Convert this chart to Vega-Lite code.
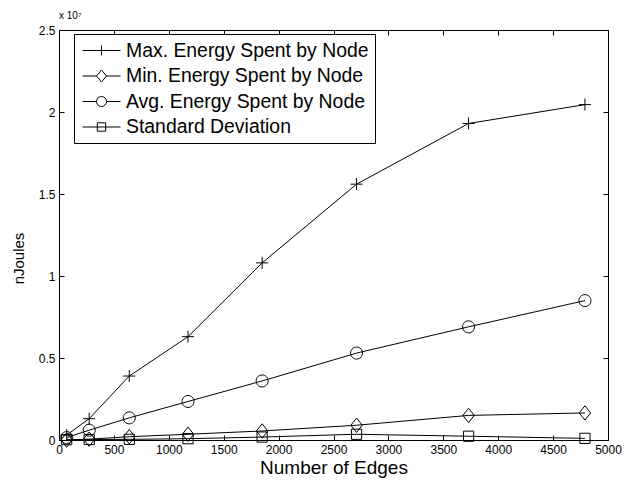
{
  "$schema": "https://vega.github.io/schema/vega-lite/v6.json",
  "autosize": "none",
  "width": 549,
  "height": 410,
  "padding": {"left": 59, "top": 30, "right": 16, "bottom": 41},
  "background": "white",
  "title": {"text": "x 10⁷", "anchor": "start", "frame": "group", "fontSize": 10, "fontWeight": "normal", "font": "Liberation Sans", "offset": 3, "color": "black"},
  "config": {
    "view": {"stroke": "black", "strokeWidth": 1},
    "font": "Liberation Sans",
    "axis": {
      "domainColor": "black", "tickColor": "black", "labelColor": "black", "titleColor": "black",
      "labelFont": "Liberation Sans", "titleFont": "Liberation Sans",
      "labelFontSize": 12, "titleFontSize": 19, "titleFontWeight": "normal",
      "gridColor": "#333", "gridDash": [1, 3], "gridWidth": 0.8, "gridOpacity": 0.8,
      "tickSize": -5, "tickWidth": 1, "labelFlush": false
    }
  },
  "data": {"values": [
    {"edges": 70, "series": "Max. Energy Spent by Node", "e": 300000},
    {"edges": 275, "series": "Max. Energy Spent by Node", "e": 1300000},
    {"edges": 640, "series": "Max. Energy Spent by Node", "e": 3900000},
    {"edges": 1175, "series": "Max. Energy Spent by Node", "e": 6300000},
    {"edges": 1850, "series": "Max. Energy Spent by Node", "e": 10800000},
    {"edges": 2710, "series": "Max. Energy Spent by Node", "e": 15600000},
    {"edges": 3730, "series": "Max. Energy Spent by Node", "e": 19300000},
    {"edges": 4790, "series": "Max. Energy Spent by Node", "e": 20450000},
    {"edges": 70, "series": "Min. Energy Spent by Node", "e": 0},
    {"edges": 275, "series": "Min. Energy Spent by Node", "e": 50000},
    {"edges": 640, "series": "Min. Energy Spent by Node", "e": 200000},
    {"edges": 1175, "series": "Min. Energy Spent by Node", "e": 350000},
    {"edges": 1850, "series": "Min. Energy Spent by Node", "e": 550000},
    {"edges": 2710, "series": "Min. Energy Spent by Node", "e": 900000},
    {"edges": 3730, "series": "Min. Energy Spent by Node", "e": 1500000},
    {"edges": 4790, "series": "Min. Energy Spent by Node", "e": 1650000},
    {"edges": 70, "series": "Avg. Energy Spent by Node", "e": 150000},
    {"edges": 275, "series": "Avg. Energy Spent by Node", "e": 600000},
    {"edges": 640, "series": "Avg. Energy Spent by Node", "e": 1350000},
    {"edges": 1175, "series": "Avg. Energy Spent by Node", "e": 2350000},
    {"edges": 1850, "series": "Avg. Energy Spent by Node", "e": 3600000},
    {"edges": 2710, "series": "Avg. Energy Spent by Node", "e": 5300000},
    {"edges": 3730, "series": "Avg. Energy Spent by Node", "e": 6900000},
    {"edges": 4790, "series": "Avg. Energy Spent by Node", "e": 8500000},
    {"edges": 70, "series": "Standard Deviation", "e": 20000},
    {"edges": 275, "series": "Standard Deviation", "e": 30000},
    {"edges": 640, "series": "Standard Deviation", "e": 40000},
    {"edges": 1175, "series": "Standard Deviation", "e": 80000},
    {"edges": 1850, "series": "Standard Deviation", "e": 180000},
    {"edges": 2710, "series": "Standard Deviation", "e": 350000},
    {"edges": 3730, "series": "Standard Deviation", "e": 230000},
    {"edges": 4790, "series": "Standard Deviation", "e": 100000}
  ]},
  "layer": [
    {
      "mark": {"type": "line", "color": "black", "strokeWidth": 1},
      "encoding": {
        "x": {"field": "edges", "type": "quantitative", "scale": {"domain": [0, 5000], "nice": false},
              "axis": {"orient": "top", "labels": false, "title": null, "grid": false, "values": [0,500,1000,1500,2000,2500,3000,3500,4000,4500,5000]}},
        "y": {"field": "e", "type": "quantitative", "scale": {"domain": [0, 25000000], "nice": false},
              "axis": {"orient": "right", "labels": false, "title": null, "grid": false, "values": [0,5000000,10000000,15000000,20000000,25000000]}},
        "detail": {"field": "series"}
      }
    },
    {
      "mark": {"type": "point", "filled": false, "stroke": "black", "strokeWidth": 1, "size": 144, "opacity": 1},
      "encoding": {
        "x": {"field": "edges", "type": "quantitative", "scale": {"domain": [0, 5000], "nice": false},
              "axis": {"orient": "bottom", "title": "Number of Edges", "titlePadding": 3, "labelPadding": 9, "format": "d", "values": [0,500,1000,1500,2000,2500,3000,3500,4000,4500,5000]}},
        "y": {"field": "e", "type": "quantitative", "scale": {"domain": [0, 25000000], "nice": false},
              "axis": {"orient": "left", "title": "nJoules", "titleFontSize": 15, "titlePadding": 12, "titleY": 228, "labelPadding": 9, "values": [0,5000000,10000000,15000000,20000000,25000000], "labelExpr": "'' + (datum.value / 10000000)"}},
        "shape": {
          "field": "series", "type": "nominal",
          "scale": {
            "domain": ["Max. Energy Spent by Node", "Min. Energy Spent by Node", "Avg. Energy Spent by Node", "Standard Deviation"],
            "range": ["M-1,0H1M0,-1V1", "M0,-1.2L0.95,0L0,1.2L-0.95,0Z", "M-1,0A1,1 0 1,1 1,0A1,1 0 1,1 -1,0Z", "M-0.85,-0.85H0.85V0.85H-0.85Z"]
          },
          "legend": null
        }
      }
    },
    {
      "mark": {"type": "point", "filled": false, "stroke": "black", "strokeWidth": 0, "size": 0, "opacity": 1},
      "encoding": {
        "x": {"field": "edges", "type": "quantitative", "axis": null},
        "y": {"field": "e", "type": "quantitative", "axis": null},
        "shape": {
          "field": "series", "type": "nominal",
          "scale": {
            "domain": ["Max. Energy Spent by Node", "Min. Energy Spent by Node", "Avg. Energy Spent by Node", "Standard Deviation"],
            "range": ["M-1.9,0H1.9M0,-0.5V0.5", "M-1.9,0H-0.5M0.5,0H1.9M0,-0.6L0.5,0L0,0.6L-0.5,0Z", "M-1.9,0H-0.5M0.5,0H1.9M-0.5,0A0.5,0.5 0 1,1 0.5,0A0.5,0.5 0 1,1 -0.5,0Z", "M-1.9,0H1.9M-0.42,-0.42H0.42V0.42H-0.42Z"]
          },
          "legend": {
            "title": null, "orient": "none", "legendX": 15, "legendY": 4,
            "strokeColor": "black", "fillColor": "white", "padding": 6,
            "labelFontSize": 19.4, "labelFont": "Liberation Sans", "labelColor": "black",
            "labelExpr": "datum.label + '\u2002'",
            "symbolSize": 400, "symbolStrokeColor": "black", "symbolStrokeWidth": 1, "symbolFillColor": "transparent", "symbolOpacity": 1,
            "symbolOffset": 11, "labelOffset": 14, "rowPadding": 5.5, "labelLimit": 400
          }
        }
      }
    }
  ],
  "resolve": {"axis": {"x": "independent", "y": "independent"}, "scale": {"shape": "independent"}, "legend": {"shape": "independent"}}
}
